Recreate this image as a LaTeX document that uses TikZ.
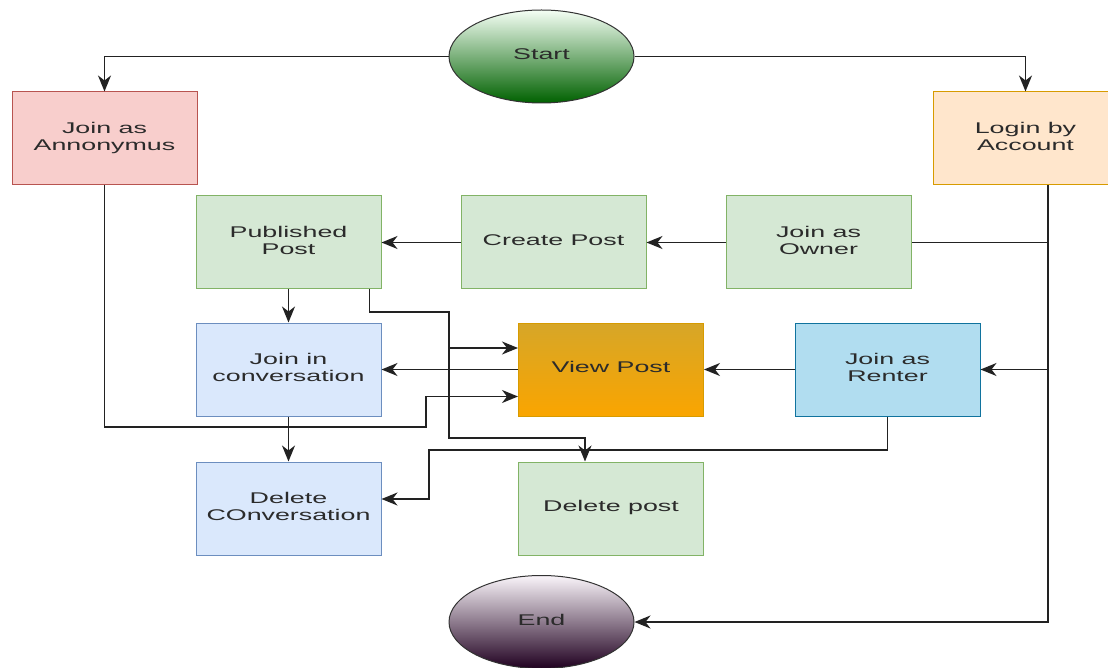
\documentclass[tikz,border=0pt]{standalone}
\usepackage{fontspec}
\usepackage{graphicx}
\setmainfont{Liberation Sans}
\usetikzlibrary{shapes.geometric,arrows.meta}

\definecolor{txt}{HTML}{2B2B2B}
\definecolor{ln}{HTML}{222222}
\definecolor{redf}{HTML}{F8CECC}\definecolor{redd}{HTML}{B85450}
\definecolor{orgf}{HTML}{FFE6CC}\definecolor{orgd}{HTML}{D79B00}
\definecolor{grnf}{HTML}{D5E8D4}\definecolor{grnd}{HTML}{82B366}
\definecolor{bluf}{HTML}{DAE8FC}\definecolor{blud}{HTML}{6C8EBF}
\definecolor{cyaf}{HTML}{B1DDF0}\definecolor{cyad}{HTML}{10739E}

% wide label text
\newcommand\lbl[1]{\scalebox{1.73}[1]{\begin{tabular}{@{}c@{}}#1\end{tabular}}}

\begin{document}
\begin{tikzpicture}[x=1pt,y=-1pt,
  every node/.style={text=txt,font=\fontsize{15.5}{17}\selectfont},
  box/.style={rectangle,draw,line width=1pt,minimum width=185pt,minimum height=93pt,inner sep=0pt},
  oval/.style={ellipse,draw=black!80,line width=1pt,minimum width=185pt,minimum height=93pt,inner sep=0pt},
  redbox/.style={box,fill=redf,draw=redd},
  orgbox/.style={box,fill=orgf,draw=orgd},
  grnbox/.style={box,fill=grnf,draw=grnd},
  blubox/.style={box,fill=bluf,draw=blud},
  cyabox/.style={box,fill=cyaf,draw=cyad},
  conn/.style={draw=ln,line width=1.4pt},
  arr/.style={conn,-{Stealth[length=16pt,width=13pt,inset=5pt]}}]

\useasboundingbox (0,0) rectangle (1108,668);

% terminals
\node[oval,top color=green!4!white,bottom color=green!38!black] (start) at (541.5,56.5) {\lbl{Start}};
\node[oval,top color=violet!4!white,bottom color=violet!25!black] (end) at (541.5,622) {\lbl{End}};

% entry boxes
\node[redbox] (anon) at (104.5,138.5) {\lbl{Join as\\Annonymus}};
\node[orgbox] (login) at (1025.5,138.5) {\lbl{Login by\\Account}};

% owner row
\node[grnbox] (pub) at (288.5,242.5) {\lbl{Published\\Post}};
\node[grnbox] (create) at (553.5,242.5) {\lbl{Create Post}};
\node[grnbox] (owner) at (818.5,242.5) {\lbl{Join as\\Owner}};

% renter row
\node[blubox] (conv) at (288.5,369.5) {\lbl{Join in\\conversation}};
\node[box,draw=orgd,top color={rgb,255:red,214;green,166;blue,40},bottom color={rgb,255:red,250;green,165;blue,0}] (view) at (611,369.5) {\lbl{View Post}};
\node[cyabox] (renter) at (887.5,369.5) {\lbl{Join as\\Renter}};

% delete row
\node[blubox] (delconv) at (288.5,508.5) {\lbl{Delete\\COnversation}};
\node[grnbox] (delpost) at (611,508.5) {\lbl{Delete post}};

% helper points
\coordinate (ltop) at ([xshift=22.5pt]login.south);
\coordinate (pubout) at ([xshift=81pt]pub.south);
\coordinate (bus) at (449,312);
\coordinate (busend) at (449,438);
\coordinate (vtop) at ([yshift=21.5pt]view.west);
\coordinate (vbot) at ([yshift=-27pt]view.west);
\coordinate (anonturn) at (426,427);
\coordinate (rentturn) at (429,450);

% connectors
\draw[arr] (start.west) -| (anon.north);
\draw[arr] (start.east) -| (login.north);
\draw[arr] (ltop) |- (end.east);
\draw[conn] (ltop |- owner.east) -- (owner.east);
\draw[arr] (ltop |- renter.east) -- (renter.east);
\draw[arr] (owner.west) -- (create.east);
\draw[arr] (create.west) -- (pub.east);
\draw[arr] (pub.south) -- (conv.north);
\draw[arr] (pubout) |- (bus) -- (busend) -| ([xshift=-26pt]delpost.north);
\draw[arr] (bus |- vtop) -- (vtop);
\draw[arr] (view.west) -- (conv.east);
\draw[arr] (renter.west) -- (view.east);
\draw[arr] (conv.south) -- (delconv.north);
\draw[arr] (anon.south) |- (anonturn) |- (vbot);
\draw[arr] (renter.south) |- (rentturn) |- ([yshift=9.5pt]delconv.east);
\end{tikzpicture}
\end{document}
